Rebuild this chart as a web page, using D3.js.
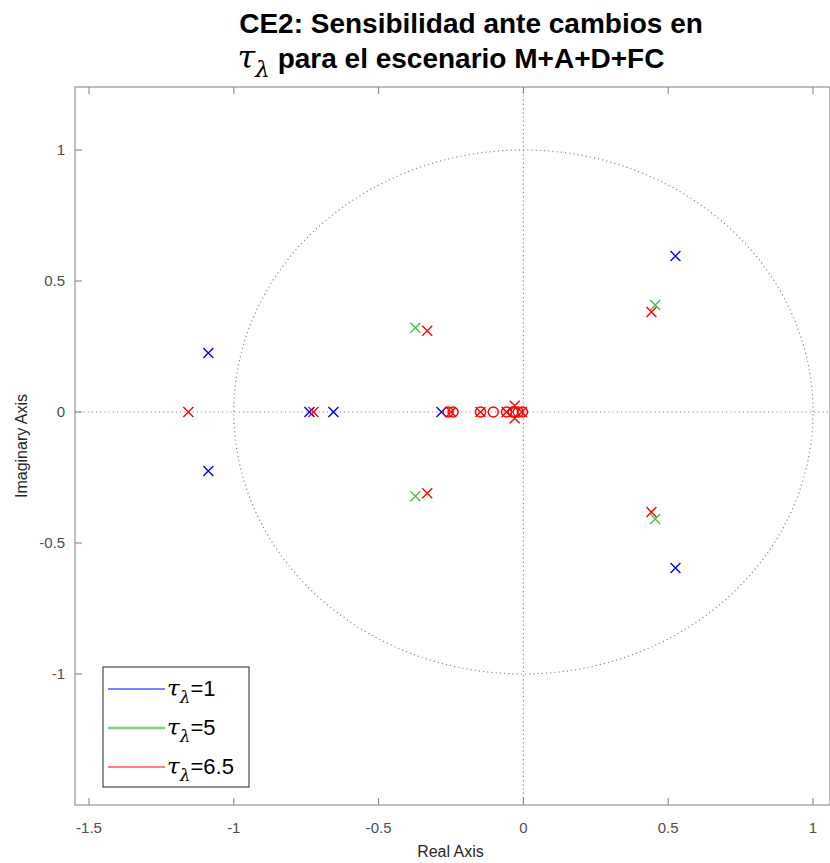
<!DOCTYPE html>
<html><head><meta charset="utf-8">
<script src="https://cdn.jsdelivr.net/npm/d3@7"></script>
<style>body{margin:0;background:#fff;} svg{display:block;font-family:"Liberation Sans",Arial,sans-serif;}</style>
</head><body><div id="chart"></div>
<script>
const xTicks = [-1.5, -1, -0.5, 0, 0.5, 1];
const yTicks = [-1, -0.5, 0, 0.5, 1];
const seriesNames = ["1", "5", "6.5"];
const seriesColors = ["#0000ff", "#4dbe4d", "#ff0000"];
// poles [re, im]
const polesT1 = [[-1.088,0.225],[-1.088,-0.225],[-0.739,0],[-0.656,0],[-0.283,0],[0.525,0.595],[0.525,-0.595]];
const zerosT1 = [];
const polesT5 = [[-0.373,0.322],[-0.373,-0.322],[0.455,0.408],[0.455,-0.408]];
const zerosT5 = [];
const polesT65 = [[-1.157,0],[-0.725,0],[-0.25,0],[-0.148,0],[-0.058,0],[-0.03,0.024],[-0.03,-0.024],[-0.005,0],[0.442,0.382],[0.442,-0.382],[-0.332,0.31],[-0.332,-0.31]];
const zerosT65 = [[-0.26,0],[-0.243,0],[-0.148,0],[-0.104,0],[-0.058,0],[-0.036,0],[-0.018,0],[-0.003,0]];

const W = 830, H = 863;
const L = 75, R = 830, T = 87, B = 805;
const svg = d3.select("#chart").append("svg").attr("width", W).attr("height", H);
const x = d3.scaleLinear().domain([-1.5, 1]).range([89, 813]);
const y = d3.scaleLinear().domain([-1, 1]).range([674, 150]);

const gridCol = "#8c8c8c";
svg.append("line").attr("x1", L).attr("x2", R).attr("y1", y(0)).attr("y2", y(0))
  .attr("stroke", gridCol).attr("stroke-width", 1.2).attr("stroke-dasharray", "1.2,3");
svg.append("line").attr("x1", x(0)).attr("x2", x(0)).attr("y1", T).attr("y2", B)
  .attr("stroke", gridCol).attr("stroke-width", 1.2).attr("stroke-dasharray", "1.2,3");
const circ = d3.range(0, 361, 1).map(a => [Math.cos(a*Math.PI/180), Math.sin(a*Math.PI/180)]);
svg.append("path").attr("d", d3.line().x(d => x(d[0])).y(d => y(d[1]))(circ))
  .attr("fill", "none").attr("stroke", gridCol).attr("stroke-width", 1.2).attr("stroke-dasharray", "1.2,3");

const groups = [[polesT1, zerosT1], [polesT5, zerosT5], [polesT65, zerosT65]];
const s = 5;
groups.forEach(([poles, zeros], i) => {
  const g = svg.append("g").attr("stroke", seriesColors[i]).attr("stroke-width", 1.4).attr("fill", "none");
  zeros.forEach(z => g.append("circle").attr("cx", x(z[0])).attr("cy", y(z[1])).attr("r", 5));
  poles.forEach(p => {
    const cx = x(p[0]), cy = y(p[1]);
    g.append("path").attr("d", `M${cx-s},${cy-s}L${cx+s},${cy+s}M${cx-s},${cy+s}L${cx+s},${cy-s}`);
  });
});

const axCol = "#262626";
svg.append("rect").attr("x", L).attr("y", T).attr("width", R - L).attr("height", B - T)
  .attr("fill", "none").attr("stroke", "#808080").attr("stroke-width", 1);
const tl = 7;
xTicks.forEach(t => {
  svg.append("line").attr("x1", x(t)).attr("x2", x(t)).attr("y1", B).attr("y2", B - tl).attr("stroke", "#808080");
  svg.append("line").attr("x1", x(t)).attr("x2", x(t)).attr("y1", T).attr("y2", T + tl).attr("stroke", "#808080");
  svg.append("text").attr("x", x(t)).attr("y", 833).attr("text-anchor", "middle")
    .attr("font-size", 15).attr("fill", "#4d4d4d").text(t);
});
yTicks.forEach(t => {
  svg.append("line").attr("x1", L).attr("x2", L + tl).attr("y1", y(t)).attr("y2", y(t)).attr("stroke", "#808080");
  svg.append("text").attr("x", L - 10).attr("y", y(t) + 5).attr("text-anchor", "end")
    .attr("font-size", 15).attr("fill", "#4d4d4d").text(t);
});
svg.append("text").attr("x", (L + R) / 2 - 2).attr("y", 857).attr("text-anchor", "middle")
  .attr("font-size", 16).attr("fill", axCol).text("Real Axis");
svg.append("text").attr("transform", `translate(27,${(T + B) / 2}) rotate(-90)`).attr("text-anchor", "middle")
  .attr("font-size", 16).attr("fill", axCol).text("Imaginary Axis");

const title = svg.append("g").attr("font-weight", "bold").attr("font-size", 28).attr("fill", "#000");
title.append("text").attr("x", 471).attr("y", 33).attr("text-anchor", "middle").text("CE2: Sensibilidad ante cambios en");
const t2 = title.append("text").attr("x", 451).attr("y", 68).attr("text-anchor", "middle");
t2.append("tspan").attr("font-family", "DejaVu Serif").attr("font-style", "italic").attr("font-weight", "normal")
  .attr("font-size", 32).text("τ");
t2.append("tspan").attr("font-family", "DejaVu Serif").attr("font-style", "italic").attr("font-weight", "normal")
  .attr("font-size", 23).attr("dy", 9).text("λ");
t2.append("tspan").attr("dy", -9).text(" para el escenario M+A+D+FC");

const lg = svg.append("g");
lg.append("rect").attr("x", 103).attr("y", 667).attr("width", 146).attr("height", 120)
  .attr("fill", "#fff").attr("stroke", "#262626").attr("stroke-width", 1);
const legW = [1.2, 2.5, 1.2];
seriesNames.forEach((n, i) => {
  const yy = 689 + i * 39;
  lg.append("line").attr("x1", 108).attr("x2", 165).attr("y1", yy).attr("y2", yy)
    .attr("stroke", i === 1 ? "#7fd27f" : seriesColors[i]).attr("stroke-width", legW[i]);
  const t = lg.append("text").attr("x", 167).attr("y", yy + 7).attr("font-size", 22).attr("fill", "#000");
  t.append("tspan").attr("font-family", "DejaVu Serif").attr("font-style", "italic").attr("font-size", 23).text("τ");
  t.append("tspan").attr("font-family", "DejaVu Serif").attr("font-style", "italic").attr("font-size", 17).attr("dy", 7).text("λ");
  t.append("tspan").attr("dy", -7).text("=" + n);
});
</script>
</body></html>
